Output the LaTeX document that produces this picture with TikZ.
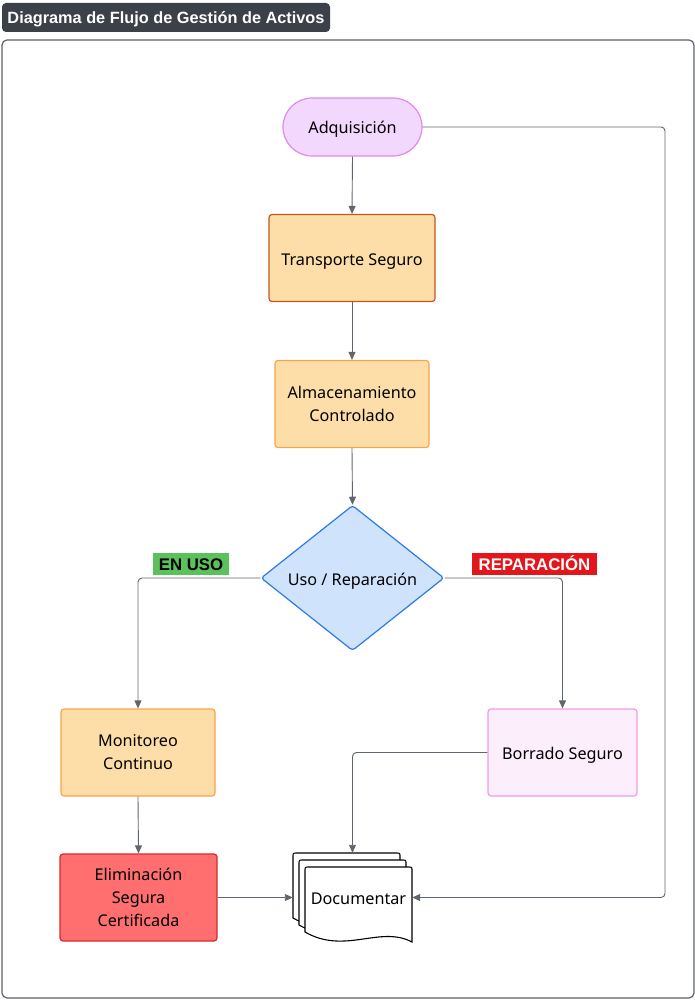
\documentclass[tikz,border=0pt]{standalone}
\usepackage{fontspec}
\setmainfont{Noto Sans}
\newfontfamily\boldsans{Liberation Sans}
\usetikzlibrary{shapes.geometric,arrows.meta}

\definecolor{titlegrey}{HTML}{3B4049}
\definecolor{framegrey}{HTML}{5C6068}
\definecolor{linegrey}{HTML}{606670}
\definecolor{purplefill}{HTML}{F2D8FC}
\definecolor{purpleline}{HTML}{DD8AF5}
\definecolor{orangefill}{HTML}{FEDEA8}
\definecolor{darkorange}{HTML}{C5561B}
\definecolor{orangeline}{HTML}{F5A54B}
\definecolor{bluefill}{HTML}{CFE3FD}
\definecolor{blueline}{HTML}{2C7BE5}
\definecolor{pinkfill}{HTML}{FDEEFC}
\definecolor{pinkline}{HTML}{F09AE8}
\definecolor{redfill}{HTML}{FF6F6F}
\definecolor{redline}{HTML}{D62B2B}
\definecolor{greenlabel}{HTML}{5BC25B}
\definecolor{redlabel}{HTML}{E3171B}

\tikzset{
  basetext/.style={font=\fontsize{16.2}{23}\selectfont, align=center, text=black},
  oneline/.style={text height=15, text depth=1},
  procbox/.style={basetext, rectangle, rounded corners=3, line width=1.2,
    minimum width=#1, minimum height=87, inner sep=0},
  terminal/.style={basetext, oneline, rectangle, rounded corners=29, line width=1.2,
    fill=purplefill, draw=purpleline, minimum width=139, minimum height=58},
  decision/.style={basetext, oneline, diamond, rounded corners=3, line width=1.2,
    fill=bluefill, draw=blueline, minimum width=183, minimum height=142, inner sep=0},
  flow/.style={draw=linegrey, line width=0.9, rounded corners=4,
    -{Triangle[length=8pt,width=7pt]}},
  tag/.style={font=\boldsans\bfseries\fontsize{16.8}{18}\selectfont, inner sep=0,
    minimum height=22, text height=12.5, text depth=0.5},
  page/.style={draw=black, fill=white, line width=1.1},
}

% one sheet of the stacked document symbol, top-left corner at #1,#2
\newcommand\docsheet[2]{%
  \begin{scope}[shift={(#1,#2)}]
    \draw[page] (0,65) -- (0,4) .. controls (0,0) .. (4,0) -- (103,0)
      .. controls (107,0) .. (107,4) -- (107,75)
      .. controls (75,58) and (40,88) .. (0,65) -- cycle;
  \end{scope}}

\begin{document}
\begin{tikzpicture}[x=1pt,y=-1pt]
\useasboundingbox (0,0) rectangle (695,1000);

% title and frame
\node[fill=titlegrey, rounded corners=4, text=white,
  font=\boldsans\bfseries\fontsize{16.3}{18}\selectfont,
  minimum width=328, minimum height=29, inner sep=0,
  text height=12.5, text depth=1] (title) at (166,17.5)
  {Diagrama de Flujo de Gestión de Activos};
\draw[framegrey, line width=1.2, rounded corners=5] (2,40) rectangle (694,998);

% flow steps
\node[terminal] (adq) at (352.5,127) {Adquisición};
\node[procbox=166, oneline, fill=orangefill, draw=darkorange] (trans) at (352,258) {Transporte Seguro};
\node[procbox=154, fill=orangefill, draw=orangeline] (alm) at (352,404) {Almacenamiento\\Controlado};
\node[decision] (dec) at (352.5,578) {Uso / Reparación};
\node[procbox=154, fill=orangefill, draw=orangeline] (mon) at (138,752.5) {Monitoreo\\Continuo};
\node[procbox=149, oneline, fill=pinkfill, draw=pinkline] (bor) at (562.5,752.5) {Borrado Seguro};
\node[procbox=157, fill=redfill, draw=redline] (eli) at (138.5,897.5) {Eliminación\\Segura\\Certificada};

% stacked document symbol
\docsheet{293}{853}
\docsheet{299}{860}
\docsheet{305}{867}
\node[minimum width=119, minimum height=89, inner sep=0] (doc) at (352.5,897.5) {};
\node[basetext, oneline] (doctext) at (358.5,897.5) {Documentar};

% branch tags
\node[tag, fill=greenlabel, text=black, minimum width=76] (enuso) at (191,564) {EN USO};
\node[tag, fill=redlabel, text=white, minimum width=125] (repar) at (534.5,564) {REPARACIÓN};

% connectors
\draw[flow] (adq.south) -- (trans.north);
\draw[flow] (trans.south) -- (alm.north);
\draw[flow] (alm.south) -- (dec.north);
\draw[flow] (dec.west) -| (mon.north);
\draw[flow] (dec.east) -| (bor.north);
\draw[flow] (mon.south) -- (eli.north);
\draw[flow] (eli.east) -- (doc.west);
\draw[flow] (bor.west) -| (doc.north);
\draw[flow] (adq.east) -- (665,127) -- (665,897.5) -- (doc.east);
\end{tikzpicture}
\end{document}
